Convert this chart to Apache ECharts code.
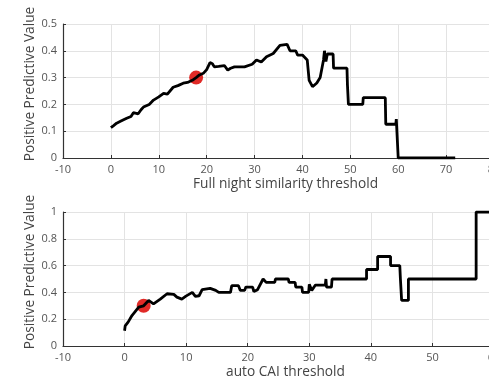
<!DOCTYPE html>
<html><head><meta charset="utf-8">
<script src="https://cdn.jsdelivr.net/npm/echarts@6/dist/echarts.min.js"></script>
<style>html,body{margin:0;padding:0;background:#fff;}#c{width:489px;height:378px;}</style>
</head><body><div id="c"></div>
<script>
// Top panel: Full night similarity threshold vs PPV
const topX = [0,0.5,1.2,2,3.3,4.2,4.7,5.7,6.3,6.8,8,8.9,10,11,11.8,13,14,15.1,16,17,17.8,18.5,19.3,20,20.7,21.2,21.6,22.5,23.7,24.4,25,25.8,27.9,28,29.5,30.4,31.4,32.5,33.9,35.3,36.8,37.4,38.6,39,40,41,41.4,42.1,43,43.7,44.4,44.6,44.9,45.2,46.4,46.5,49.3,49.4,49.6,52.6,52.7,57.3,57.4,59.5,59.6,59.9,60,71.9];
const topY = [0.113,0.12,0.13,0.137,0.148,0.155,0.169,0.165,0.18,0.19,0.2,0.216,0.228,0.241,0.238,0.264,0.27,0.279,0.282,0.29,0.30,0.31,0.316,0.33,0.356,0.352,0.34,0.342,0.345,0.328,0.335,0.34,0.34,0.335,0.35,0.366,0.358,0.378,0.39,0.42,0.424,0.40,0.40,0.384,0.384,0.366,0.29,0.266,0.28,0.30,0.366,0.40,0.36,0.388,0.388,0.335,0.335,0.272,0.20,0.20,0.225,0.225,0.126,0.126,0.145,0.145,0,0];
const topMarker = [17.8, 0.30];
// Bottom panel: auto CAI threshold vs PPV
const botX = [0,0.1,0.6,1.2,2.3,3.1,3.9,4.7,5.8,6.9,8,8.5,9.3,9.9,11,11.5,12.1,12.6,13.9,14.8,15.3,17.2,17.4,18.5,18.8,19.5,19.7,20.8,21,21.6,22.5,23,24.4,24.5,26.6,26.7,27.7,27.8,28.8,28.9,29.9,30,30.4,31,32.6,32.7,32.8,33.6,33.7,39.3,39.3,41.1,41.1,43.2,43.2,44.7,44.8,45,46.1,46.1,57.1,57.1,61];
const botY = [0.114,0.15,0.18,0.227,0.29,0.30,0.34,0.315,0.35,0.39,0.385,0.365,0.35,0.37,0.40,0.37,0.375,0.42,0.43,0.415,0.40,0.40,0.45,0.45,0.415,0.415,0.44,0.44,0.406,0.42,0.50,0.475,0.475,0.50,0.50,0.475,0.475,0.44,0.44,0.40,0.40,0.46,0.415,0.455,0.455,0.50,0.44,0.44,0.50,0.50,0.571,0.571,0.668,0.668,0.60,0.60,0.50,0.34,0.34,0.50,0.50,1.0,1.0];
const botMarker = [3.1, 0.30];

const xTopTicks = {min:-10, max:80, interval:10};
const yTopTicks = {min:0, max:0.5, interval:0.1};
const xBotTicks = {min:-10, max:60, interval:10};
const yBotTicks = {min:0, max:1, interval:0.2};
const yName = 'Positive Predictive Value';
const xTopName = 'Full night similarity threshold';
const xBotName = 'auto CAI threshold';

const zip = (a,b) => a.map((v,i)=>[v,b[i]]);
const font = 'Open Sans';
const lab = {color:'#555', fontSize:11, fontFamily:font, margin:6};
const axLine = {show:true, onZero:false, lineStyle:{color:'#333', width:1.2}};
const split = {show:true, lineStyle:{color:'#e3e3e3', width:1}};
const tick = {show:true, inside:true, length:3, lineStyle:{color:'#333'}};
const nameStyle = {color:'#444', fontSize:13.7, fontFamily:font};

function xAx(t, name, gi){
  return Object.assign({type:'value', gridIndex:gi, name:name, nameLocation:'middle', nameGap:19,
    nameMoveOverlap:false,
    nameTextStyle:Object.assign({}, nameStyle, {padding:[0,0,0,14]}),
    axisLine:axLine, axisTick:tick, splitLine:split, axisLabel:lab}, t);
}
function yAx(t, gi){
  return Object.assign({type:'value', gridIndex:gi, name:yName, nameLocation:'middle', nameGap:26,
    nameMoveOverlap:false,
    nameTextStyle:Object.assign({}, nameStyle, {padding:[0,0,0,14]}),
    axisLine:axLine, axisTick:tick, splitLine:split,
    axisLabel:Object.assign({}, lab, {formatter:v=>String(+v.toFixed(1))})}, t);
}

const chart = echarts.init(document.getElementById('c'), null, {renderer:'canvas'});
chart.setOption({
  animation:false,
  backgroundColor:'#fff',
  grid:[
    {left:63, width:431, top:24, height:134, outerBoundsMode:'none', containLabel:false},
    {left:63, width:431, top:212, height:134, outerBoundsMode:'none', containLabel:false}
  ],
  xAxis:[xAx(xTopTicks, xTopName, 0), xAx(xBotTicks, xBotName, 1)],
  yAxis:[yAx(yTopTicks, 0), yAx(yBotTicks, 1)],
  series:[
    {type:'line', xAxisIndex:0, yAxisIndex:0, data:zip(topX,topY), showSymbol:false, lineStyle:{color:'#000', width:2.8}, clip:true},
    {type:'scatter', xAxisIndex:0, yAxisIndex:0, data:[topMarker], symbolSize:14, itemStyle:{color:'#e02a27', opacity:1}},
    {type:'line', xAxisIndex:1, yAxisIndex:1, data:zip(botX,botY), showSymbol:false, lineStyle:{color:'#000', width:2.8}, clip:true},
    {type:'scatter', xAxisIndex:1, yAxisIndex:1, data:[botMarker], symbolSize:14, itemStyle:{color:'#e02a27', opacity:1}}
  ]
});
</script></body></html>
